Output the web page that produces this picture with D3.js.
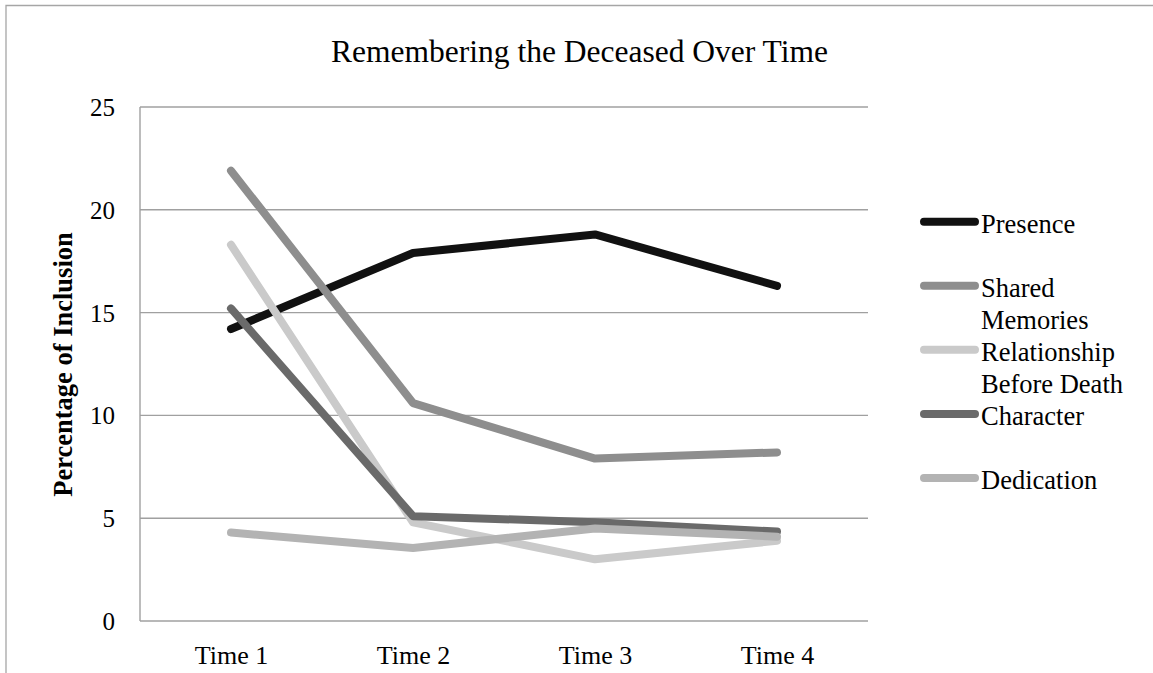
<!DOCTYPE html>
<html>
<head>
<meta charset="utf-8">
<script src="https://cdn.jsdelivr.net/npm/d3@7"></script>
<style>
  html, body { margin: 0; padding: 0; background: #fff; }
  svg { display: block; }
  text { font-family: "Liberation Serif", "Times New Roman", serif; fill: #000; }
</style>
</head>
<body>
<svg id="chart" width="1153" height="673"></svg>
<script>
const categories = ["Time 1", "Time 2", "Time 3", "Time 4"];
const seriesNames = ["Presence", "Shared Memories", "Relationship Before Death", "Character", "Dedication"];
const legendLines = [["Presence"], ["Shared", "Memories"], ["Relationship", "Before Death"], ["Character"], ["Dedication"]];
const presence = [14.2, 17.9, 18.8, 16.3];
const sharedMemories = [21.9, 10.6, 7.9, 8.2];
const relationship = [18.3, 4.8, 3.0, 3.9];
const character = [15.2, 5.1, 4.8, 4.35];
const dedication = [4.3, 3.55, 4.5, 4.1];
const seriesColors = ["#111111", "#8e8e8e", "#cacaca", "#6a6a6a", "#b3b3b3"];
const yTicks = [0, 5, 10, 15, 20, 25];
const title = "Remembering the Deceased Over Time";
const yTitle = "Percentage of Inclusion";

const seriesValues = [presence, sharedMemories, relationship, character, dedication];

const svg = d3.select("#chart");
const gridColor = "#a0a0a0";

// outer chart border (top and left visible)
svg.append("path")
  .attr("d", "M6,673 L6,5.5 L1153,5.5")
  .attr("fill", "none").attr("stroke", "#a6a6a6").attr("stroke-width", 1.3);

const plot = { left: 140, right: 868, top: 107, bottom: 621 };

const x = d3.scalePoint().domain(categories).range([plot.left, plot.right]).padding(0.5);
const y = d3.scaleLinear().domain([0, 25]).range([plot.bottom, plot.top]);

// gridlines
svg.append("g")
  .selectAll("line").data(yTicks).join("line")
  .attr("x1", plot.left).attr("x2", plot.right)
  .attr("y1", d => y(d)).attr("y2", d => y(d))
  .attr("stroke", gridColor).attr("stroke-width", 1.4);

// left axis line
svg.append("line")
  .attr("x1", plot.left).attr("x2", plot.left)
  .attr("y1", plot.top).attr("y2", plot.bottom)
  .attr("stroke", gridColor).attr("stroke-width", 1.4);

// y axis tick labels
const yAxis = d3.axisLeft(y).tickValues(yTicks).tickSize(0).tickPadding(25);
const yg = svg.append("g").attr("transform", `translate(${plot.left},0)`).call(yAxis);
yg.attr("font-family", null);
yg.select(".domain").remove();
yg.selectAll("text")
  .attr("font-size", 25).attr("fill", "#000").attr("dy", "0.34em");

// x axis labels
const xAxis = d3.axisBottom(x).tickSize(0).tickPadding(0);
const xg = svg.append("g").attr("transform", `translate(0,${plot.bottom})`).call(xAxis);
xg.attr("font-family", null);
xg.select(".domain").remove();
xg.selectAll("text")
  .attr("font-size", 26).attr("fill", "#000")
  .attr("dy", null).attr("y", 43);

// lines
const line = d3.line().x((d, i) => x(categories[i])).y(d => y(d));
svg.append("g")
  .selectAll("path").data(seriesValues).join("path")
  .attr("d", d => line(d))
  .attr("fill", "none")
  .attr("stroke", (d, i) => seriesColors[i])
  .attr("stroke-width", 8)
  .attr("stroke-linecap", "round")
  .attr("stroke-linejoin", "round");

// title
svg.append("text")
  .attr("x", 579.5).attr("y", 62)
  .attr("text-anchor", "middle")
  .attr("font-size", 31.5)
  .text(title);

// y axis title
svg.append("text")
  .attr("transform", "translate(71.5,364.5) rotate(-90)")
  .attr("text-anchor", "middle")
  .attr("font-size", 26.5)
  .attr("font-weight", "bold")
  .text(yTitle);

// legend
const legendY = d3.scaleLinear().domain([0, 4]).range([221.7, 478]);
const lg = svg.append("g");
seriesNames.forEach((name, i) => {
  const yy = legendY(i);
  lg.append("line")
    .attr("x1", 924).attr("x2", 975)
    .attr("y1", yy).attr("y2", yy)
    .attr("stroke", seriesColors[i]).attr("stroke-width", 8)
    .attr("stroke-linecap", "round");
  const t = lg.append("text")
    .attr("x", 981).attr("y", yy + 11.3)
    .attr("font-size", 26.5);
  legendLines[i].forEach((ln, j) => {
    t.append("tspan").attr("x", 981).attr("dy", j === 0 ? 0 : 31.7).text(ln);
  });
});
</script>
</body>
</html>
